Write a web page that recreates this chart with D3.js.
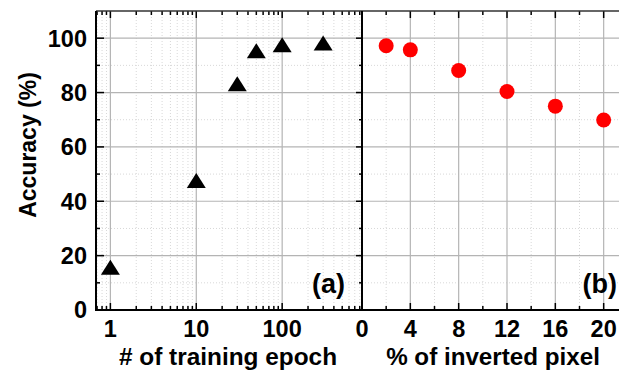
<!DOCTYPE html>
<html>
<head>
<meta charset="utf-8">
<script src="https://cdn.jsdelivr.net/npm/d3@7"></script>
<style>
  body { margin: 0; background: #fff; }
  svg text { font-family: "Liberation Sans", Arial, sans-serif; font-weight: bold; fill: #000; }
</style>
</head>
<body>
<svg id="chart" width="619" height="374"></svg>
<script>
// panel (a): accuracy vs number of training epochs
const epochs = [1, 10, 30, 50, 100, 300];
const epochAcc = [15.7, 47.6, 83.2, 95.4, 97.6, 98.2];

// panel (b): accuracy vs % of inverted pixels
const inverted = [2, 4, 8, 12, 16, 20];
const invertedAcc = [97.2, 95.7, 88.1, 80.4, 75.0, 69.9];

const yTicks = [0, 20, 40, 60, 80, 100];
const epochTicks = [1, 10, 100];
const invertedTicks = [0, 4, 8, 12, 16, 20];

const svg = d3.select("#chart");

const yTop = 11, yBottom = 310;
const y = d3.scaleLinear().domain([0, 110]).range([yBottom, yTop]);
const xa = d3.scaleLog().domain([0.68, 850]).range([96, 362]);
const xb = d3.scaleLinear().domain([0, 21.6]).range([362, 623]);

const gridMajor = "#b4b4b4";
const gridMinor = "#d8d8d8";

// minor positions
const epochMinor = [];
[0.1, 1, 10, 100].forEach(d => {
  for (let k = 2; k <= 9; k++) {
    const v = d * k;
    if (v > 0.68 && v < 850 && !epochTicks.includes(v)) epochMinor.push(v);
  }
});
const yMinor = d3.range(10, 110, 20);
const invMinor = d3.range(2, 21, 4);

function drawGrid(g, x, xMajor, xMinor, x0, x1) {
  // minor dotted grid
  g.selectAll(".vmin").data(xMinor).enter().append("line")
    .attr("x1", d => x(d)).attr("x2", d => x(d))
    .attr("y1", yTop).attr("y2", yBottom)
    .attr("stroke", gridMinor).attr("stroke-dasharray", "1,2");
  g.selectAll(".hmin").data(yMinor).enter().append("line")
    .attr("x1", x0).attr("x2", x1)
    .attr("y1", d => y(d)).attr("y2", d => y(d))
    .attr("stroke", gridMinor).attr("stroke-dasharray", "1,2");
  // major solid grid
  g.selectAll(".vmaj").data(xMajor).enter().append("line")
    .attr("x1", d => x(d)).attr("x2", d => x(d))
    .attr("y1", yTop).attr("y2", yBottom)
    .attr("stroke", gridMajor).attr("stroke-width", 1.2);
  g.selectAll(".hmaj").data(yTicks.filter(d => d > 0)).enter().append("line")
    .attr("x1", x0).attr("x2", x1)
    .attr("y1", d => y(d)).attr("y2", d => y(d))
    .attr("stroke", gridMajor).attr("stroke-width", 1.2);
}

const ga = svg.append("g");
drawGrid(ga, xa, epochTicks, epochMinor, 96, 362);
const gb = svg.append("g");
drawGrid(gb, xb, invertedTicks.filter(d => d > 0), invMinor, 362, 623);

// ticks (inward)
function vTicks(vals, x, len, yStart, dir) {
  svg.append("g").selectAll("line").data(vals).enter().append("line")
    .attr("x1", d => x(d)).attr("x2", d => x(d))
    .attr("y1", yStart).attr("y2", yStart + dir * len)
    .attr("stroke", "#000").attr("stroke-width", 1.5);
}
function hTicks(vals, xStart, len, dir) {
  svg.append("g").selectAll("line").data(vals).enter().append("line")
    .attr("x1", xStart).attr("x2", xStart + dir * len)
    .attr("y1", d => y(d)).attr("y2", d => y(d))
    .attr("stroke", "#000").attr("stroke-width", 1.5);
}
vTicks(epochTicks, xa, 7, yBottom, -1);
vTicks(epochMinor, xa, 4, yBottom, -1);
vTicks(epochTicks, xa, 7, yTop, 1);
vTicks(epochMinor, xa, 4, yTop, 1);
vTicks(invertedTicks, xb, 7, yBottom, -1);
vTicks(invMinor, xb, 4, yBottom, -1);
vTicks(invertedTicks, xb, 7, yTop, 1);
vTicks(invMinor, xb, 4, yTop, 1);
hTicks(yTicks, 96, 8, 1);
hTicks(yMinor, 96, 4, 1);
hTicks(yTicks, 362, 6, -1);
hTicks(yMinor, 362, 3, -1);

// frame
svg.append("line").attr("x1", 96).attr("x2", 619).attr("y1", yTop).attr("y2", yTop)
  .attr("stroke", "#333").attr("stroke-width", 1.5);
svg.append("line").attr("x1", 95).attr("x2", 619).attr("y1", yBottom).attr("y2", yBottom)
  .attr("stroke", "#000").attr("stroke-width", 2);
svg.append("line").attr("x1", 96).attr("x2", 96).attr("y1", yTop).attr("y2", yBottom)
  .attr("stroke", "#000").attr("stroke-width", 2);
svg.append("line").attr("x1", 362).attr("x2", 362).attr("y1", yTop).attr("y2", yBottom)
  .attr("stroke", "#000").attr("stroke-width", 2);

// tick labels
svg.append("g").selectAll("text").data(yTicks).enter().append("text")
  .attr("x", 87).attr("y", d => y(d) + 8.4)
  .attr("text-anchor", "end").style("font-size", "23.5px")
  .text(d => d);
svg.append("g").selectAll("text").data(epochTicks).enter().append("text")
  .attr("x", d => xa(d)).attr("y", 337)
  .attr("text-anchor", "middle").style("font-size", "23.5px")
  .text(d => d);
svg.append("g").selectAll("text").data(invertedTicks).enter().append("text")
  .attr("x", d => xb(d)).attr("y", 337)
  .attr("text-anchor", "middle").style("font-size", "23.5px")
  .text(d => d);

// axis titles
svg.append("text").attr("x", 228).attr("y", 365)
  .attr("text-anchor", "middle").style("font-size", "24.4px")
  .text("# of training epoch");
svg.append("text").attr("x", 493).attr("y", 365)
  .attr("text-anchor", "middle").style("font-size", "24.2px")
  .text("% of inverted pixel");
svg.append("text")
  .attr("transform", "translate(36,145) rotate(-90)")
  .attr("text-anchor", "middle").style("font-size", "23px")
  .text("Accuracy (%)");

// panel labels
svg.append("text").attr("x", 345).attr("y", 293)
  .attr("text-anchor", "end").style("font-size", "27px").text("(a)");
svg.append("text").attr("x", 617).attr("y", 293)
  .attr("text-anchor", "end").style("font-size", "27px").text("(b)");

// markers
const tw = 19, th = 15;
svg.append("g").selectAll("path")
  .data(epochs.map((e, i) => [e, epochAcc[i]])).enter().append("path")
  .attr("d", `M0,${-th / 2}L${tw / 2},${th / 2}L${-tw / 2},${th / 2}Z`)
  .attr("transform", d => `translate(${xa(d[0])},${y(d[1])})`)
  .attr("fill", "#000");

svg.append("g").selectAll("circle")
  .data(inverted.map((p, i) => [p, invertedAcc[i]])).enter().append("circle")
  .attr("cx", d => xb(d[0])).attr("cy", d => y(d[1]))
  .attr("r", 7.5).attr("fill", "#ff0000");
</script>
</body>
</html>
